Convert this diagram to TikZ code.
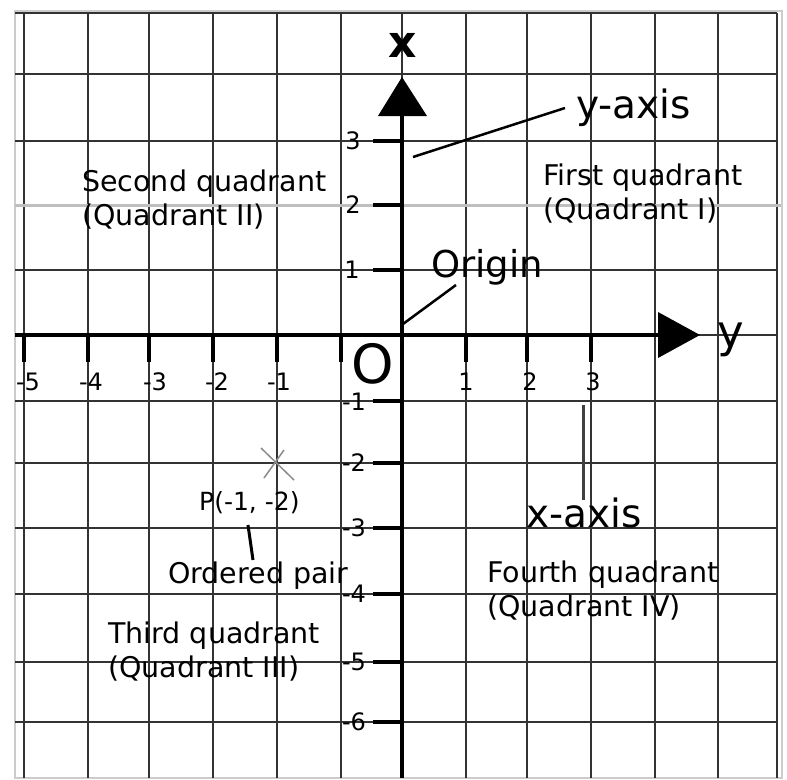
\documentclass[tikz,border=0pt]{standalone}
\usepackage{fontspec}
\setmainfont{DejaVu Sans}
\usetikzlibrary{calc}
\begin{document}
\begin{tikzpicture}[x=1pt,y=-1pt,
  gridline/.style={draw=black!80, line width=1.4pt},
  framebox/.style={draw=black!20, line width=1.2pt},
  axisline/.style={line width=4pt},
  tickline/.style={line width=3.5pt},
  ticklbl/.style={font=\fontsize{24}{28}\selectfont, inner sep=0pt},
  quad/.style={font=\fontsize{28.5}{34}\selectfont, align=left, inner sep=0pt, anchor=base west},
  biglbl/.style={font=\fontsize{39}{44}\selectfont, inner sep=0pt, anchor=base west},
  lead/.style={line width=2.5pt},
]
\useasboundingbox (0,0) rectangle (787,779);
\fill[white] (0,0) rectangle (787,779);
\draw[framebox] (15,11) rectangle (782,778);
% grid
\foreach \x in {24,88,149,213,277,341,402,466,527,591,655,718,777}
  \draw[gridline] (\x,13) -- (\x,778);
\foreach \y in {13,74,141,270,335,401,463,528,594,662,722}
  \draw[gridline] (15,\y) -- (777,\y);
\draw[draw=black!25, line width=3pt] (15,205) -- (781,205);
% axes
\draw[axisline] (402,778) -- (402,114);
\fill (378,116) -- (402,77) -- (427,116) -- cycle;
\draw[axisline] (15,335) -- (660,335);
\fill (658,312) -- (700,335) -- (658,358) -- cycle;
% ticks
\foreach \x in {24,88,149,213,277,341,466,527,591}
  \draw[tickline] (\x,335) -- (\x,362);
\foreach \y in {141,205,270,401,463,528,594,662,722}
  \draw[tickline] (373,\y) -- (402,\y);
% tick labels
\node[ticklbl] (hm5) at (28,382) {-5};
\node[ticklbl] (hm4) at (91,382) {-4};
\node[ticklbl] (hm3) at (155,382) {-3};
\node[ticklbl] (hm2) at (217,382) {-2};
\node[ticklbl] (hm1) at (279,382) {-1};
\node[ticklbl] (hp1) at (466,382) {1};
\node[ticklbl] (hp2) at (530,382) {2};
\node[ticklbl] (hp3) at (593,382) {3};
\node[ticklbl] (vp3) at (353,141) {3};
\node[ticklbl] (vp2) at (353,205) {2};
\node[ticklbl] (vp1) at (352,270) {1};
\node[ticklbl] (vm1) at (354,402) {-1};
\node[ticklbl] (vm2) at (354,463) {-2};
\node[ticklbl] (vm3) at (354,528) {-3};
\node[ticklbl] (vm4) at (354,594) {-4};
\node[ticklbl] (vm5) at (354,662) {-5};
\node[ticklbl] (vm6) at (354,722) {-6};
% axis names
\node[font=\fontsize{44}{48}\bfseries\selectfont, inner sep=0pt, anchor=base] (xname) at (403,57) {x};
\node[font=\fontsize{45}{48}\selectfont, inner sep=0pt, anchor=base] (yname) at (731,347) {y};
\node[font=\fontsize{54}{60}\selectfont, inner sep=0pt, anchor=base] (oname) at (373,383) {O};
% quadrant labels (anchor = baseline of the second line)
\node[quad] (q2) at (82,225) {Second quadrant\\(Quadrant II)};
\node[quad] (q1) at (543,219) {First quadrant\\(Quadrant I)};
\node[quad] (q3) at (108,677) {Third quadrant\\(Quadrant III)};
\node[quad] (q4) at (487,616) {Fourth quadrant\\(Quadrant IV)};
% callouts
\node[font=\fontsize{37}{40}\selectfont, inner sep=0pt, anchor=base west] (origin) at (431,277) {Origin};
\node[biglbl] (yaxis) at (576,118) {y-axis};
\node[biglbl] (xaxis) at (526,527) {x-axis};
\node[font=\fontsize{25}{28}\selectfont, inner sep=0pt, anchor=base west] (plbl) at (199,510) {P(-1, -2)};
\node[quad] (pair) at (168,583) {Ordered pair};
% point P
\coordinate (P) at (278,463);
\draw[draw=black!45, line width=1.5pt] ($(P)+(-17,-15)$) -- ($(P)+(16,17)$);
\draw[draw=black!45, line width=1.5pt] ($(P)+(-14,15)$) -- ($(P)+(6,-13)$);
% leader lines
\coordinate (o1) at (403,324);
\coordinate (o2) at (456,285);
\draw[lead] (o1) -- (o2);
\coordinate (ya1) at (413,157);
\coordinate (ya2) at (565,108);
\draw[lead] (ya1) -- (ya2);
\coordinate (xa1) at (583,405);
\coordinate (xa2) at (583,500);
\draw[lead, draw=black!75, line width=3pt] (xa1) -- (xa2);
\coordinate (pp1) at (248,525);
\coordinate (pp2) at (253,560);
\draw[lead, line width=3pt] (pp1) -- (pp2);
\end{tikzpicture}
\end{document}
